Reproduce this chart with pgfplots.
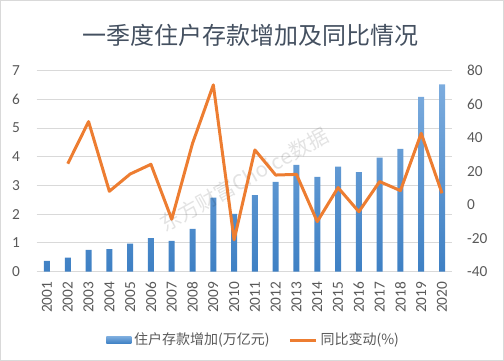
\documentclass[border=0pt]{standalone}
\usepackage{fontspec}
\setmainfont{Carlito}
\newfontfamily\cjk{Noto Sans CJK SC}
\usepackage{pgfplots}
\pgfplotsset{compat=1.18}
\definecolor{barTop}{RGB}{124,172,222}
\definecolor{barBot}{RGB}{62,128,196}
\definecolor{lineOr}{RGB}{237,125,49}
\definecolor{gridc}{RGB}{217,217,217}
\definecolor{txt}{RGB}{89,89,89}
\definecolor{ttl}{RGB}{68,80,96}
\begin{document}
\begin{tikzpicture}
\path[use as bounding box] (0,0) rectangle (378pt,270.75pt);
\draw[gridc, line width=0.75pt] (0.375pt,0.375pt) rectangle (377.625pt,270.375pt);
\node[font=\cjk\fontsize{18}{20}\selectfont, text=ttl] at (187.9pt,244.5pt) {一季度住户存款增加及同比情况};
\begin{axis}[
  at={(27.45pt,66.98pt)}, anchor=south west, scale only axis,
  width=311.85pt, height=150.75pt,
  xmin=0.5, xmax=20.5, ymin=0, ymax=7,
  ytick={0,1,...,7},
  xtick={1,...,20},
  xticklabels={2001,2002,2003,2004,2005,2006,2007,2008,2009,2010,2011,2012,2013,2014,2015,2016,2017,2018,2019,2020},
  ymajorgrids, grid style={gridc, line width=0.75pt},
  axis line style={draw=none}, major tick length=0pt,
  tick label style={font=\fontsize{11.5}{12}\selectfont, text=txt},
  /pgf/number format/assume math mode=true,
  yticklabel style={anchor=east, xshift=-9pt},
  xticklabel style={rotate=90, anchor=east},
  xticklabel shift=4pt,
]
\addplot[ybar, bar width=4.5pt, draw=none, top color=barTop, bottom color=barBot] coordinates {
(1,0.38) (2,0.49) (3,0.76) (4,0.79) (5,0.98) (6,1.17) (7,1.07) (8,1.49) (9,2.58) (10,2.01)
(11,2.67) (12,3.13) (13,3.72) (14,3.30) (15,3.66) (16,3.47) (17,3.97) (18,4.28) (19,6.09) (20,6.52)};
\end{axis}
\node[font=\cjk\fontsize{15.5}{16}\selectfont, text=black, opacity=0.11, rotate=29] at (183pt,136pt) {东方财富Choice数据};
\begin{axis}[
  at={(27.45pt,66.98pt)}, anchor=south west, scale only axis,
  width=311.85pt, height=150.75pt,
  xmin=0.5, xmax=20.5, ymin=-40, ymax=80,
  ytick={-40,-20,...,80},
  axis y line*=right, hide x axis,
  axis line style={draw=none}, major tick length=0pt,
  tick label style={font=\fontsize{11.5}{12}\selectfont, text=txt},
  /pgf/number format/assume math mode=true,
  yticklabel style={anchor=west, xshift=7.5pt},
  legend style={at={(0.523,-0.34)}, anchor=center, draw=none, fill=none,
    font=\cjk\fontsize{10.5}{12}\selectfont, text=txt,
    /tikz/every even column/.append style={column sep=12pt}},
  legend columns=2, legend cell align=left,
]
\addlegendimage{legend image code/.code={\path[draw=none, top color=barTop, bottom color=barBot] (0pt,-2.6pt) rectangle (18.75pt,2.6pt);}}
\addlegendentry{住户存款增加(万亿元)}
\addplot[lineOr, line width=2.25pt, line join=round, mark=none,
  legend image code/.code={\draw[lineOr,line width=2.25pt] (0pt,0pt) -- (20pt,0pt);}] coordinates {
(2,24.5) (3,49.6) (4,8.0) (5,18.3) (6,24.1) (7,-8.7) (8,36.6) (9,71.5) (10,-21.0)
(11,32.7) (12,17.7) (13,18.1) (14,-10.1) (15,10.2) (16,-4.2) (17,13.8) (18,8.4) (19,42.6) (20,6.8)};
\addlegendentry{同比变动(\%)}
\end{axis}
\end{tikzpicture}
\end{document}
